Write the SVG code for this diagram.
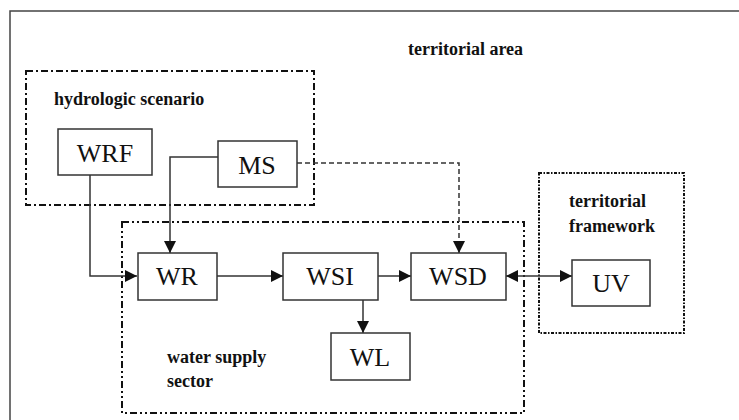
<svg xmlns="http://www.w3.org/2000/svg" width="739" height="420" viewBox="0 0 739 420">
<style>
.box{fill:#fff;stroke:#333;stroke-width:1.5}
.lbl{font-size:26px;fill:#111;text-anchor:middle}
.grp{font-size:18px;font-weight:bold;fill:#111}
.con{fill:none;stroke:#333;stroke-width:1.5}
.area{fill:none;stroke:#111;stroke-width:2}
</style>
<defs>
<marker id="ah" viewBox="0 0 12 12" refX="12" refY="6" markerWidth="12" markerHeight="12" markerUnits="userSpaceOnUse" orient="auto-start-reverse">
<path d="M0,0 L12,6 L0,12 Z" fill="#111"/>
</marker>
</defs>
<g font-family="'Liberation Serif', 'Times New Roman', Times, 'DejaVu Serif', 'Noto Serif', serif">
<rect x="10" y="11" width="740" height="420" fill="none" stroke="#444" stroke-width="1.5"/>
<text class="grp" x="408" y="55">territorial area</text>
<g id="hydrologic-scenario">
<rect class="area" x="26" y="71" width="288" height="134" stroke-dasharray="7,3,2,3"/>
<text class="grp" x="54" y="105">hydrologic scenario</text>
</g>
<g id="water-supply-sector">
<rect class="area" x="122" y="222" width="402" height="191" stroke-dasharray="7,3,2,3,2,3"/>
<text class="grp" x="167" y="363">water supply</text>
<text class="grp" x="167" y="387">sector</text>
</g>
<g id="territorial-framework">
<rect class="area" x="539" y="173" width="145" height="160" stroke-dasharray="3,1.5,1.5,1.5"/>
<text class="grp" x="569" y="207">territorial</text>
<text class="grp" x="569" y="232">framework</text>
</g>
<g id="connectors">
<polyline class="con" points="90,175 90,276 137,276" marker-end="url(#ah)"/>
<polyline class="con" points="218,157 170,157 170,253" marker-end="url(#ah)"/>
<polyline class="con" points="297,163 459,163 459,253" stroke-dasharray="5,3" marker-end="url(#ah)"/>
<line class="con" x1="217" y1="276" x2="283" y2="276" marker-end="url(#ah)"/>
<line class="con" x1="378" y1="276" x2="411" y2="276" marker-end="url(#ah)"/>
<line class="con" x1="363" y1="300" x2="363" y2="333" marker-end="url(#ah)"/>
<line class="con" x1="506" y1="276" x2="572" y2="276" marker-start="url(#ah)" marker-end="url(#ah)"/>
</g>
<g id="WRF"><rect class="box" x="58" y="129" width="94" height="46"/><text class="lbl" x="105" y="162">WRF</text></g>
<g id="MS"><rect class="box" x="218" y="141" width="79" height="46"/><text class="lbl" x="257" y="174">MS</text></g>
<g id="WR"><rect class="box" x="138" y="253" width="79" height="47"/><text class="lbl" x="177" y="285">WR</text></g>
<g id="WSI"><rect class="box" x="283" y="253" width="95" height="47"/><text class="lbl" x="330" y="285">WSI</text></g>
<g id="WSD"><rect class="box" x="411" y="253" width="95" height="47"/><text class="lbl" x="458" y="285">WSD</text></g>
<g id="WL"><rect class="box" x="331" y="333" width="79" height="47"/><text class="lbl" x="370" y="366">WL</text></g>
<g id="UV"><rect class="box" x="572" y="260" width="78" height="46"/><text class="lbl" x="611" y="292">UV</text></g>
</g>
</svg>
